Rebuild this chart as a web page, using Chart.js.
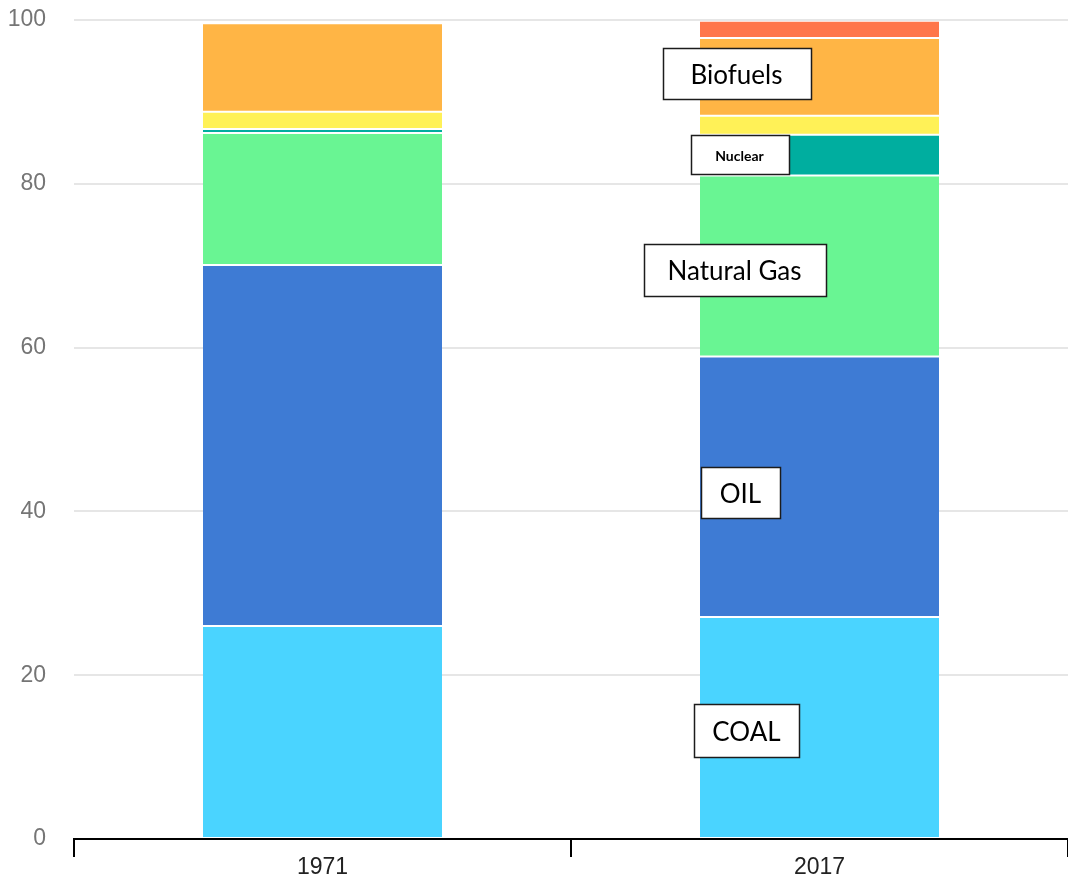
<!DOCTYPE html>
<html>
<head>
<meta charset="utf-8">
<script src="https://cdn.jsdelivr.net/npm/chart.js@4/dist/chart.umd.min.js"></script>
<style>
  html, body { margin: 0; padding: 0; background: #fff; }
  canvas { display: block; }
</style>
</head>
<body>
<canvas id="mix" width="1068" height="879"></canvas>
<script>
// Share of world total primary energy supply by source, %
const years = ["1971", "2017"]
const coal = [26.0, 27.1]
const oil = [44.1, 31.8]
const naturalGas = [16.1, 22.1]
const nuclear = [0.5, 5.0]
const hydro = [2.1, 2.3]
const biofuels = [10.8, 9.5]
const otherRenewables = [0.1, 2.1]
const yTicks = [0, 20, 40, 60, 80, 100]

// boxed callouts next to the 2017 bar
const callouts = [
  { text: "Biofuels", bar: 1, value: 93.5, dx: -83, w: 148, h: 51, font: "26px Lato" },
  { text: "Nuclear", bar: 1, value: 83.6, dx: -80, w: 98, h: 39, font: "bold 14px Lato" },
  { text: "Natural Gas", bar: 1, value: 69.5, dx: -85, w: 182, h: 52, font: "26px Lato" },
  { text: "OIL", bar: 1, value: 42.3, dx: -79, w: 79, h: 51, font: "26px Lato" },
  { text: "COAL", bar: 1, value: 13.2, dx: -73, w: 105, h: 53, font: "26px Lato" },
]

const calloutPlugin = {
  id: "callouts",
  afterDatasetsDraw(chart) {
    const { ctx, scales: { x, y } } = chart
    ctx.save()
    callouts.forEach(c => {
      const cx = x.getPixelForValue(c.bar) + c.dx
      const cy = y.getPixelForValue(c.value)
      const left = Math.round(cx - c.w / 2) + 0.5
      const top = Math.round(cy - c.h / 2) + 0.5
      ctx.fillStyle = "#fff"
      ctx.fillRect(left, top, c.w, c.h)
      ctx.lineWidth = 1.5
      ctx.strokeStyle = "#1c1c1c"
      ctx.strokeRect(left, top, c.w, c.h)
      ctx.fillStyle = "#000"
      ctx.font = c.font
      ctx.textAlign = "center"
      ctx.textBaseline = "middle"
      ctx.fillText(c.text, cx, cy + 2)
    })
    ctx.restore()
  },
}

const series = [
  { label: "Coal", data: coal, color: "#4ad4ff" },
  { label: "Oil", data: oil, color: "#3e7bd4" },
  { label: "Natural gas", data: naturalGas, color: "#69f593" },
  { label: "Nuclear", data: nuclear, color: "#00ae9f" },
  { label: "Hydro", data: hydro, color: "#fff157" },
  { label: "Biofuels and waste", data: biofuels, color: "#ffb545" },
  { label: "Other", data: otherRenewables, color: "#ff764a" },
]

new Chart(document.getElementById("mix"), {
  type: "bar",
  data: {
    labels: years,
    datasets: series.map(s => ({
      label: s.label,
      data: s.data,
      backgroundColor: s.color,
      borderColor: "#fff",
      borderWidth: { top: 1, bottom: 1, left: 0, right: 0 },
      borderSkipped: false,
      categoryPercentage: 1,
      barPercentage: 0.481,
    })),
  },
  options: {
    responsive: false,
    animation: false,
    layout: { padding: { top: 20, left: 0, right: 0, bottom: 0 } },
    plugins: { legend: { display: false }, tooltip: { enabled: false } },
    scales: {
      x: {
        stacked: true,
        grid: { drawOnChartArea: false, drawTicks: true, tickLength: 18, color: "#000", lineWidth: 2 },
        border: { color: "#000", width: 2 },
        ticks: { color: "#222", font: { family: "Liberation Sans", size: 23 }, padding: -3 },
        afterFit(scale) { scale.height = 40 },
      },
      y: {
        stacked: true,
        min: 0,
        max: 100,
        afterBuildTicks(scale) { scale.ticks = yTicks.map(v => ({ value: v })) },
        // transparent tick marks keep the labels 28px clear of the plot
        grid: { color: "#e6e6e6", lineWidth: 2, drawTicks: true, tickLength: 28, tickColor: "rgba(0,0,0,0)" },
        border: { display: false },
        ticks: { color: "#757575", font: { family: "Liberation Sans", size: 23 }, padding: 0 },
        afterFit(scale) { scale.width = 74 },
      },
    },
  },
  plugins: [calloutPlugin],
})
</script>
</body>
</html>
